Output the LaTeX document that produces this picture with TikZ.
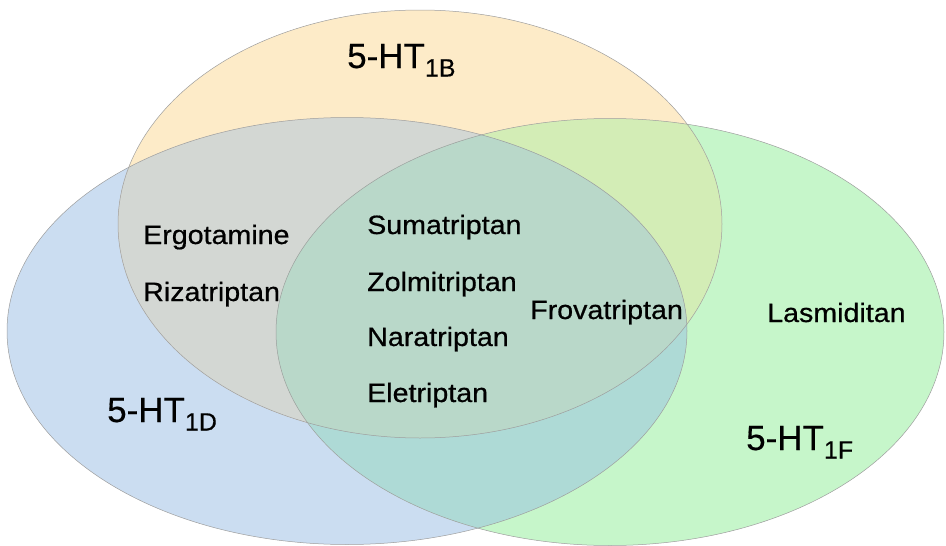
\documentclass[tikz,border=0pt]{standalone}
\usepackage{fontspec}
\setmainfont{Liberation Sans}
\newfontfamily\drugfont[FakeStretch=1.08,FakeBold=0.6]{Liberation Sans}
\newfontfamily\setfont[FakeBold=0.4]{Liberation Sans}
\definecolor{cOr}{HTML}{FDEBC8}
\definecolor{cBl}{HTML}{CBDDF1}
\definecolor{cGr}{HTML}{C6F6CA}
\definecolor{cOB}{HTML}{D3D7D3}
\definecolor{cOG}{HTML}{D3EDB6}
\definecolor{cBG}{HTML}{AEDAD6}
\definecolor{cAll}{HTML}{B9D8C9}
\tikzset{
  outline/.style={draw=black!38, line width=0.5pt},
  druglabel/.style={anchor=base west, inner sep=0pt, font=\drugfont\fontsize{26.5}{30}\selectfont},
  setlabel/.style={anchor=base west, inner sep=0pt, font=\setfont\fontsize{35}{40}\selectfont}
}
\newcommand{\subtxt}[1]{\raisebox{-8.5pt}{\fontsize{25}{28}\selectfont #1}}
\begin{document}
\begin{tikzpicture}[x=1pt,y=-1pt]
\useasboundingbox (0,0) rectangle (946,546);
\def\EO{(420,224) ellipse [x radius=302pt, y radius=214pt]}
\def\EB{(347,331) ellipse [x radius=340pt, y radius=213.5pt]}
\def\EG{(610,332) ellipse [x radius=334pt, y radius=213.5pt]}
% single sets
\fill[cBl] \EB;
\fill[cGr] \EG;
\fill[cOr] \EO;
% pairwise overlaps
\begin{scope}\clip \EO; \fill[cOB] \EB; \end{scope}
\begin{scope}\clip \EO; \fill[cOG] \EG; \end{scope}
\begin{scope}\clip \EB; \fill[cBG] \EG; \end{scope}
% triple overlap
\begin{scope}\clip \EO; \clip \EB; \fill[cAll] \EG; \end{scope}
% outlines
\draw[outline] \EB;
\draw[outline] \EG;
\draw[outline] \EO;
% set labels
\node[setlabel] (l1b) at (347,68) {5-HT\subtxt{1B}};
\node[setlabel] (l1d) at (107,422) {5-HT\subtxt{1D}};
\node[setlabel] (l1f) at (746,450) {5-HT\subtxt{1F}};
% drugs
\node[druglabel] (erg) at (143,244) {Ergotamine};
\node[druglabel] (riz) at (143,301) {Rizatriptan};
\node[druglabel] (sum) at (367,234) {Sumatriptan};
\node[druglabel] (zol) at (367,291) {Zolmitriptan};
\node[druglabel] (nar) at (367,346) {Naratriptan};
\node[druglabel] (ele) at (367,402) {Eletriptan};
\node[druglabel] (fro) at (530,319) {Frovatriptan};
\node[druglabel] (las) at (767,322) {Lasmiditan};
\end{tikzpicture}
\end{document}
